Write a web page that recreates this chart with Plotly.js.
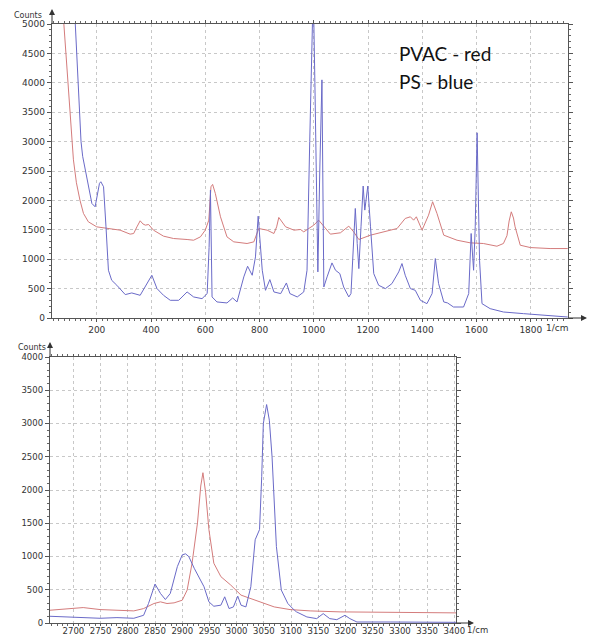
<!DOCTYPE html>
<html>
<head>
<meta charset="utf-8">
<script src="https://cdn.plot.ly/plotly-3.0.1.min.js"></script>
<style>html,body{margin:0;padding:0;background:#fff;}#chart{width:593px;height:636px;}</style>
</head>
<body>
<div id="chart"></div>
<script>
// ---- Top panel (low wavenumber) ----
var pvacX1 = [65, 79, 87, 94, 104, 111, 114, 125, 138, 151, 169, 200, 237, 286, 323, 336, 348, 360, 370, 379, 391, 409, 446, 483, 533, 557, 582, 600, 613, 621, 627, 637, 656, 680, 705, 754, 779, 797, 810, 828, 853, 863, 871, 884, 896, 927, 951, 963, 1000, 1018, 1037, 1061, 1098, 1129, 1147, 1166, 1209, 1258, 1307, 1337, 1356, 1368, 1378, 1399, 1423, 1438, 1454, 1479, 1528, 1577, 1625, 1675, 1699, 1712, 1720, 1728, 1736, 1742, 1761, 1798, 1871, 1936];
var pvacY1 = [5900, 5000, 4500, 4000, 3500, 3000, 2690, 2300, 2005, 1778, 1636, 1550, 1522, 1494, 1426, 1437, 1550, 1653, 1600, 1579, 1590, 1494, 1392, 1352, 1335, 1323, 1380, 1494, 1664, 2232, 2272, 2119, 1721, 1380, 1295, 1267, 1295, 1522, 1510, 1494, 1437, 1550, 1710, 1620, 1551, 1494, 1505, 1465, 1579, 1664, 1551, 1426, 1449, 1562, 1465, 1335, 1409, 1465, 1522, 1693, 1721, 1664, 1721, 1494, 1749, 1977, 1778, 1409, 1323, 1278, 1267, 1221, 1267, 1400, 1650, 1806, 1700, 1551, 1238, 1198, 1181, 1181];

var psX1 = [105, 121, 132, 142, 148, 166, 182, 194, 202, 210, 215, 225, 234, 243, 255, 274, 305, 329, 360, 385, 403, 422, 446, 471, 502, 533, 557, 588, 607, 614, 619, 625, 643, 680, 701, 717, 742, 756, 773, 785, 795, 810, 822, 838, 853, 878, 899, 912, 939, 963, 975, 985, 992, 998, 1004, 1010, 1015, 1022, 1030, 1034, 1037, 1049, 1067, 1080, 1096, 1110, 1129, 1137, 1145, 1153, 1160, 1166, 1174, 1182, 1188, 1199, 1209, 1221, 1239, 1264, 1288, 1313, 1325, 1337, 1356, 1374, 1393, 1417, 1436, 1448, 1460, 1479, 1493, 1515, 1552, 1571, 1580, 1589, 1595, 1602, 1611, 1620, 1650, 1699, 1773, 1847, 1896, 1936];
var psY1 = [6500, 5000, 4000, 3000, 2750, 2346, 1948, 1891, 2119, 2290, 2317, 2232, 1551, 812, 642, 557, 398, 426, 386, 585, 727, 500, 386, 301, 301, 443, 358, 329, 415, 1200, 2176, 358, 273, 256, 341, 273, 699, 880, 727, 1039, 1732, 812, 471, 653, 443, 415, 596, 415, 358, 443, 812, 3000, 5000, 5600, 4000, 1800, 784, 2500, 4050, 2000, 528, 699, 937, 812, 755, 528, 358, 415, 1267, 1863, 1267, 840, 1551, 2244, 1835, 2244, 1551, 755, 557, 500, 585, 784, 926, 727, 500, 471, 301, 244, 415, 1011, 585, 273, 256, 187, 187, 415, 1437, 812, 1551, 3150, 983, 244, 159, 102, 74, 45, 28, 17];

// ---- Bottom panel (C-H stretch region) ----
var pvacX2 = [2657, 2688, 2718, 2749, 2780, 2811, 2829, 2848, 2860, 2872, 2885, 2900, 2909, 2918, 2928, 2934, 2938, 2943, 2949, 2958, 2971, 2989, 3008, 3026, 3045, 3069, 3098, 3135, 3190, 3251, 3312, 3374, 3403];
var pvacY2 = [192, 217, 232, 202, 192, 182, 217, 293, 318, 293, 303, 343, 495, 899, 1505, 2060, 2260, 1959, 1404, 899, 697, 571, 419, 369, 318, 242, 202, 182, 167, 162, 152, 152, 152];

var psX2 = [2657, 2688, 2718, 2749, 2780, 2811, 2829, 2838, 2850, 2860, 2869, 2878, 2891, 2900, 2906, 2912, 2922, 2934, 2940, 2949, 2958, 2971, 2978, 2986, 2994, 3002, 3008, 3017, 3026, 3034, 3042, 3046, 3049, 3055, 3060, 3065, 3069, 3073, 3082, 3094, 3106, 3110, 3129, 3147, 3159, 3171, 3184, 3199, 3208, 3221, 3282, 3343, 3403];
var psY2 = [101, 91, 81, 71, 81, 71, 116, 293, 586, 444, 353, 444, 848, 1025, 1040, 1000, 823, 646, 545, 318, 252, 268, 394, 217, 242, 404, 268, 242, 545, 1252, 1404, 2200, 3000, 3285, 3050, 2500, 1900, 1150, 495, 293, 192, 167, 91, 66, 141, 66, 50, 116, 66, 15, 15, 10, 10];

var topYTicks = [0, 500, 1000, 1500, 2000, 2500, 3000, 3500, 4000, 4500, 5000];
var botYTicks = [0, 500, 1000, 1500, 2000, 2500, 3000, 3500, 4000];

var RED = '#d47c7c', BLUE = '#6a6ac8';
var W = 593, H = 636;
function px(x){ return x / W; }
function py(y){ return 1 - y / H; }

var traces = [
  {x: pvacX1, y: pvacY1, xaxis: 'x', yaxis: 'y', mode: 'lines', line: {color: RED, width: 1}, name: 'PVAC'},
  {x: psX1, y: psY1, xaxis: 'x', yaxis: 'y', mode: 'lines', line: {color: BLUE, width: 1}, name: 'PS'},
  {x: pvacX2, y: pvacY2, xaxis: 'x2', yaxis: 'y2', mode: 'lines', line: {color: RED, width: 1}, name: 'PVAC'},
  {x: psX2, y: psY2, xaxis: 'x2', yaxis: 'y2', mode: 'lines', line: {color: BLUE, width: 1}, name: 'PS'}
];

var tickFont = {family: 'DejaVu Sans, Verdana, sans-serif', size: 9, color: '#333'};
var tickFontSmall = {family: 'DejaVu Sans, Verdana, sans-serif', size: 8.5, color: '#333'};
function axisBase(extra){
  var a = {
    showline: true, linecolor: '#555', linewidth: 1.2, mirror: 'ticks',
    ticks: 'outside', ticklen: 4, tickcolor: '#555', tickwidth: 1,
    showgrid: true, gridcolor: '#c8c8c8', griddash: 'dot', gridwidth: 1,
    zeroline: false, tickfont: tickFont, fixedrange: true
  };
  for (var k in extra) a[k] = extra[k];
  return a;
}

var layout = {
  width: W, height: H,
  margin: {l: 0, r: 0, t: 0, b: 0},
  paper_bgcolor: '#fff', plot_bgcolor: '#fff',
  showlegend: false,
  xaxis: axisBase({domain: [px(52), px(568)], range: [35, 1937], dtick: 200, tick0: 0, anchor: 'y',
    ticklen: 3,
    minor: {dtick: 20, ticks: 'outside', ticklen: 2, tickcolor: '#666', showgrid: false}}),
  yaxis: axisBase({domain: [py(318), py(24)], range: [0, 5000], tickvals: topYTicks, anchor: 'x',
    minor: {dtick: 100, ticks: 'outside', ticklen: 2, tickcolor: '#666', showgrid: false}}),
  xaxis2: axisBase({domain: [px(50), px(456)], range: [2657, 3403], dtick: 50, tick0: 0, anchor: 'y2',
    ticklen: 2, ticklabelstandoff: -2, tickfont: tickFontSmall,
    minor: {dtick: 10, ticks: 'outside', ticklen: 2, tickcolor: '#666', showgrid: false}}),
  yaxis2: axisBase({domain: [py(623), py(357)], range: [0, 4000], tickvals: botYTicks, anchor: 'x2',
    tickfont: tickFontSmall,
    minor: {dtick: 100, ticks: 'outside', ticklen: 2, tickcolor: '#666', showgrid: false}}),
  annotations: [
    {xref: 'paper', yref: 'paper', x: px(397), y: py(53), xanchor: 'left', yanchor: 'middle', showarrow: false,
     text: 'PVAC - red', font: {family: 'Lato, Open Sans, sans-serif', size: 19, color: '#111'}},
    {xref: 'paper', yref: 'paper', x: px(397), y: py(82), xanchor: 'left', yanchor: 'middle', showarrow: false,
     text: 'PS - blue', font: {family: 'Lato, Open Sans, sans-serif', size: 19, color: '#111'}},
    {xref: 'paper', yref: 'paper', x: px(28), y: py(16), xanchor: 'center', yanchor: 'middle', showarrow: false,
     text: 'Counts', font: {family: 'DejaVu Sans, sans-serif', size: 8, color: '#333'}},
    {xref: 'paper', yref: 'paper', x: px(32), y: py(347), xanchor: 'center', yanchor: 'middle', showarrow: false,
     text: 'Counts', font: {family: 'DejaVu Sans, sans-serif', size: 8, color: '#333'}},
    {xref: 'paper', yref: 'paper', x: px(557), y: py(328), xanchor: 'center', yanchor: 'middle', showarrow: false,
     text: '1/cm', font: tickFont},
    {xref: 'paper', yref: 'paper', x: px(477), y: py(630), xanchor: 'center', yanchor: 'middle', showarrow: false,
     text: '1/cm', font: tickFontSmall},
    // axis arrows
    {xref: 'paper', yref: 'paper', x: px(52), y: py(9), ax: 0, ay: 16, text: '', showarrow: true,
     arrowhead: 2, arrowsize: 1.2, arrowwidth: 1, arrowcolor: '#333'},
    {xref: 'paper', yref: 'paper', x: px(587), y: py(318), ax: -20, ay: 0, text: '', showarrow: true,
     arrowhead: 2, arrowsize: 1.2, arrowwidth: 1, arrowcolor: '#333'},
    {xref: 'paper', yref: 'paper', x: px(50), y: py(342), ax: 0, ay: 16, text: '', showarrow: true,
     arrowhead: 2, arrowsize: 1.2, arrowwidth: 1, arrowcolor: '#333'},
    {xref: 'paper', yref: 'paper', x: px(474), y: py(623), ax: -19, ay: 0, text: '', showarrow: true,
     arrowhead: 2, arrowsize: 1.2, arrowwidth: 1, arrowcolor: '#333'}
  ]
};

Plotly.newPlot('chart', traces, layout, {displayModeBar: false, staticPlot: true});
</script>
</body>
</html>
